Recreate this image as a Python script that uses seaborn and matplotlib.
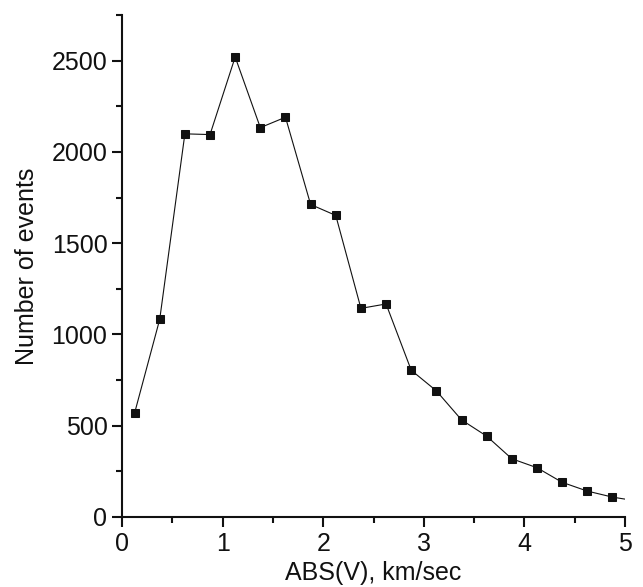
import matplotlib
matplotlib.use("Agg")
import matplotlib.pyplot as plt
from matplotlib.ticker import MultipleLocator
import numpy as np
import pandas as pd
import seaborn as sns

# Histogram of absolute velocity (bin centres, km/sec) and event counts
velocity = [0.125, 0.375, 0.625, 0.875, 1.125, 1.375, 1.625, 1.875, 2.125, 2.375,
            2.625, 2.875, 3.125, 3.375, 3.625, 3.875, 4.125, 4.375, 4.625, 4.875, 5.125]
events = [569, 1083, 2099, 2095, 2520, 2133, 2190, 1712, 1652, 1143,
          1167, 804, 691, 532, 443, 319, 270, 190, 142, 109, 87]

df = pd.DataFrame({"v": velocity, "n": events})

sns.set_style("ticks")
plt.rcParams["font.family"] = ["Liberation Sans", "DejaVu Sans"]

fig = plt.figure(figsize=(6.43, 5.87), dpi=100)
ax = fig.add_axes([122 / 643, 1 - 517 / 587, (625 - 122) / 643, (517 - 15) / 587])

sns.lineplot(data=df, x="v", y="n", ax=ax, color="#111111", linewidth=0.8,
             marker="s", markersize=5.5, markeredgecolor="#111111",
             markerfacecolor="#111111", estimator=None, sort=False)

ax.set_xlim(0, 5)
ax.set_ylim(0, 2750)
ax.xaxis.set_major_locator(MultipleLocator(1))
ax.xaxis.set_minor_locator(MultipleLocator(0.5))
ax.yaxis.set_major_locator(MultipleLocator(500))
ax.yaxis.set_minor_locator(MultipleLocator(250))

for s in ("top", "right"):
    ax.spines[s].set_visible(False)
for s in ("left", "bottom"):
    ax.spines[s].set_linewidth(1.5)
    ax.spines[s].set_color("#111111")

ax.tick_params(which="major", direction="out", length=7, width=1.5,
               labelsize=18, colors="#111111", pad=3.5)
ax.tick_params(which="minor", direction="out", length=4, width=1.5, colors="#111111")

ax.set_xlabel("ABS(V), km/sec", fontsize=18, color="#111111", labelpad=4)
ax.set_ylabel("Number of events", fontsize=18, color="#111111", labelpad=9)

fig.savefig("out.png", dpi=100)
